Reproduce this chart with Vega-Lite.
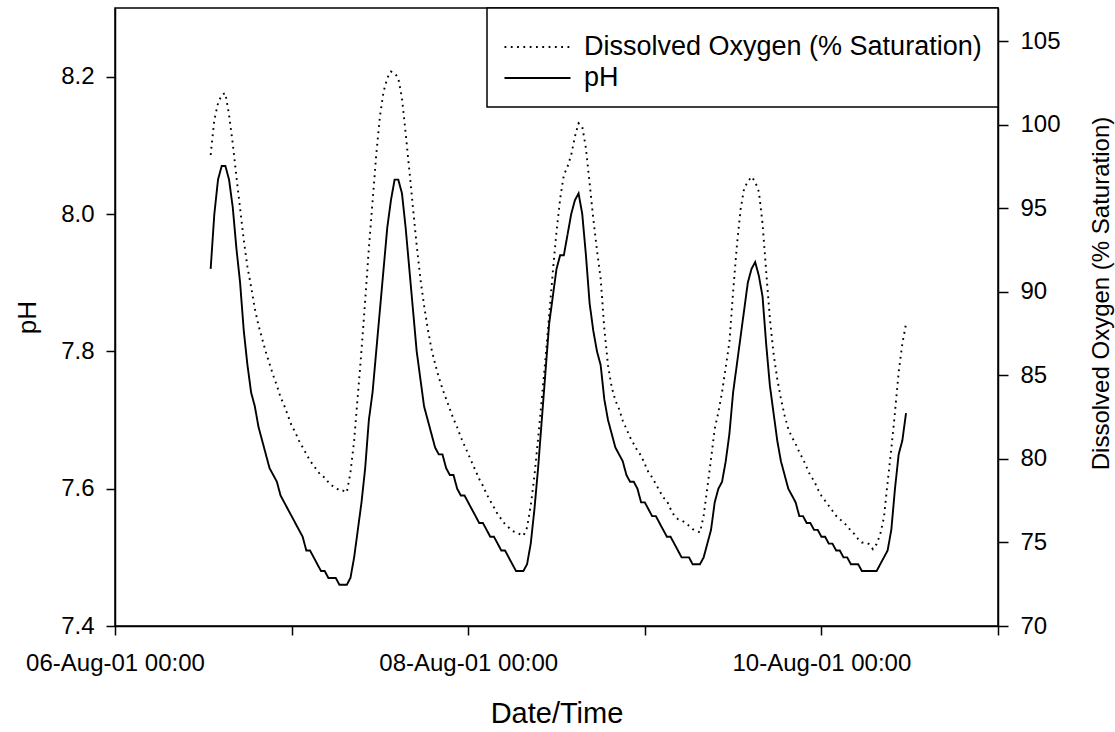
{
"$schema": "https://vega.github.io/schema/vega-lite/v6.json",
"width": 883, "height": 618,
"autosize": {"type": "none"},
"padding": {"left": 115, "top": 8, "right": 117, "bottom": 106},
"background": "white",
"config": {
 "font": "Liberation Sans",
 "view": {"stroke": "black", "strokeWidth": 1.5},
 "axis": {"grid": false, "domainColor": "black", "domainWidth": 1.5, "tickColor": "black", "tickWidth": 1.5, "labelColor": "black", "titleColor": "black", "labelFontSize": 24, "titleFontSize": 24, "titleFontWeight": "normal", "labelFont": "Liberation Sans", "titleFont": "Liberation Sans"},
 "legend": {"orient": "top-right", "offset": 0, "strokeColor": "black", "strokeWidth": 1.5, "fillColor": "white", "padding": 16, "labelFontSize": 27, "labelFont": "Liberation Sans", "labelColor": "black", "symbolType": "M-1,0H4.5", "symbolSize": 576, "symbolStrokeColor": "black", "symbolStrokeWidth": 1.8, "labelOffset": 54, "rowPadding": 3, "labelLimit": 600, "titleFontSize": 5, "titlePadding": 4.5, "titleColor": "white"}
},
"data": {"format": {"parse": {"t": "date:'%Y-%m-%d %H:%M'"}}, "values": [
{"t":"2001-08-06 13:00","ph":7.92,"do":98.2},
{"t":"2001-08-06 13:30","ph":8.00,"do":100.3},
{"t":"2001-08-06 14:00","ph":8.05,"do":101.3},
{"t":"2001-08-06 14:30","ph":8.07,"do":101.8},
{"t":"2001-08-06 15:00","ph":8.07,"do":101.9},
{"t":"2001-08-06 15:30","ph":8.05,"do":100.6},
{"t":"2001-08-06 16:00","ph":8.01,"do":98.9},
{"t":"2001-08-06 16:30","ph":7.95,"do":96.9},
{"t":"2001-08-06 17:00","ph":7.90,"do":95.0},
{"t":"2001-08-06 17:30","ph":7.83,"do":93.1},
{"t":"2001-08-06 18:00","ph":7.78,"do":91.5},
{"t":"2001-08-06 18:30","ph":7.74,"do":90.3},
{"t":"2001-08-06 19:00","ph":7.72,"do":89.0},
{"t":"2001-08-06 19:30","ph":7.69,"do":88.0},
{"t":"2001-08-06 20:00","ph":7.67,"do":87.2},
{"t":"2001-08-06 20:30","ph":7.65,"do":86.4},
{"t":"2001-08-06 21:00","ph":7.63,"do":85.7},
{"t":"2001-08-06 21:30","ph":7.62,"do":85.0},
{"t":"2001-08-06 22:00","ph":7.61,"do":84.4},
{"t":"2001-08-06 22:30","ph":7.59,"do":83.7},
{"t":"2001-08-06 23:00","ph":7.58,"do":83.2},
{"t":"2001-08-06 23:30","ph":7.57,"do":82.6},
{"t":"2001-08-07 00:00","ph":7.56,"do":82.0},
{"t":"2001-08-07 00:30","ph":7.55,"do":81.6},
{"t":"2001-08-07 01:00","ph":7.54,"do":81.1},
{"t":"2001-08-07 01:30","ph":7.53,"do":80.7},
{"t":"2001-08-07 02:00","ph":7.51,"do":80.3},
{"t":"2001-08-07 02:30","ph":7.51,"do":79.9},
{"t":"2001-08-07 03:00","ph":7.50,"do":79.6},
{"t":"2001-08-07 03:30","ph":7.49,"do":79.3},
{"t":"2001-08-07 04:00","ph":7.48,"do":79.0},
{"t":"2001-08-07 04:30","ph":7.48,"do":78.9},
{"t":"2001-08-07 05:00","ph":7.47,"do":78.6},
{"t":"2001-08-07 05:30","ph":7.47,"do":78.4},
{"t":"2001-08-07 06:00","ph":7.47,"do":78.3},
{"t":"2001-08-07 06:30","ph":7.46,"do":78.1},
{"t":"2001-08-07 07:00","ph":7.46,"do":78.1},
{"t":"2001-08-07 07:30","ph":7.46,"do":78.0},
{"t":"2001-08-07 08:00","ph":7.47,"do":79.2},
{"t":"2001-08-07 08:30","ph":7.50,"do":81.1},
{"t":"2001-08-07 09:00","ph":7.54,"do":83.8},
{"t":"2001-08-07 09:30","ph":7.58,"do":86.5},
{"t":"2001-08-07 10:00","ph":7.63,"do":89.5},
{"t":"2001-08-07 10:30","ph":7.70,"do":92.6},
{"t":"2001-08-07 11:00","ph":7.74,"do":95.4},
{"t":"2001-08-07 11:30","ph":7.80,"do":98.2},
{"t":"2001-08-07 12:00","ph":7.86,"do":100.5},
{"t":"2001-08-07 12:30","ph":7.92,"do":102.0},
{"t":"2001-08-07 13:00","ph":7.98,"do":102.8},
{"t":"2001-08-07 13:30","ph":8.02,"do":103.2},
{"t":"2001-08-07 14:00","ph":8.05,"do":103.1},
{"t":"2001-08-07 14:30","ph":8.05,"do":102.8},
{"t":"2001-08-07 15:00","ph":8.03,"do":101.6},
{"t":"2001-08-07 15:30","ph":7.98,"do":99.5},
{"t":"2001-08-07 16:00","ph":7.92,"do":97.3},
{"t":"2001-08-07 16:30","ph":7.86,"do":95.0},
{"t":"2001-08-07 17:00","ph":7.80,"do":92.8},
{"t":"2001-08-07 17:30","ph":7.76,"do":90.8},
{"t":"2001-08-07 18:00","ph":7.72,"do":89.2},
{"t":"2001-08-07 18:30","ph":7.70,"do":87.8},
{"t":"2001-08-07 19:00","ph":7.68,"do":86.6},
{"t":"2001-08-07 19:30","ph":7.66,"do":85.7},
{"t":"2001-08-07 20:00","ph":7.65,"do":84.9},
{"t":"2001-08-07 20:30","ph":7.65,"do":84.2},
{"t":"2001-08-07 21:00","ph":7.63,"do":83.6},
{"t":"2001-08-07 21:30","ph":7.62,"do":83.0},
{"t":"2001-08-07 22:00","ph":7.62,"do":82.4},
{"t":"2001-08-07 22:30","ph":7.60,"do":81.9},
{"t":"2001-08-07 23:00","ph":7.59,"do":81.3},
{"t":"2001-08-07 23:30","ph":7.59,"do":80.8},
{"t":"2001-08-08 00:00","ph":7.58,"do":80.3},
{"t":"2001-08-08 00:30","ph":7.57,"do":79.8},
{"t":"2001-08-08 01:00","ph":7.56,"do":79.3},
{"t":"2001-08-08 01:30","ph":7.55,"do":78.8},
{"t":"2001-08-08 02:00","ph":7.55,"do":78.4},
{"t":"2001-08-08 02:30","ph":7.54,"do":77.9},
{"t":"2001-08-08 03:00","ph":7.53,"do":77.5},
{"t":"2001-08-08 03:30","ph":7.53,"do":77.1},
{"t":"2001-08-08 04:00","ph":7.52,"do":76.7},
{"t":"2001-08-08 04:30","ph":7.51,"do":76.4},
{"t":"2001-08-08 05:00","ph":7.51,"do":76.1},
{"t":"2001-08-08 05:30","ph":7.50,"do":75.9},
{"t":"2001-08-08 06:00","ph":7.49,"do":75.7},
{"t":"2001-08-08 06:30","ph":7.48,"do":75.6},
{"t":"2001-08-08 07:00","ph":7.48,"do":75.5},
{"t":"2001-08-08 07:30","ph":7.48,"do":75.4},
{"t":"2001-08-08 08:00","ph":7.49,"do":75.9},
{"t":"2001-08-08 08:30","ph":7.52,"do":77.2},
{"t":"2001-08-08 09:00","ph":7.57,"do":79.0},
{"t":"2001-08-08 09:30","ph":7.63,"do":81.2},
{"t":"2001-08-08 10:00","ph":7.70,"do":83.6},
{"t":"2001-08-08 10:30","ph":7.77,"do":86.0},
{"t":"2001-08-08 11:00","ph":7.84,"do":88.6},
{"t":"2001-08-08 11:30","ph":7.88,"do":91.2},
{"t":"2001-08-08 12:00","ph":7.92,"do":93.6},
{"t":"2001-08-08 12:30","ph":7.94,"do":95.6},
{"t":"2001-08-08 13:00","ph":7.94,"do":97.0},
{"t":"2001-08-08 13:30","ph":7.97,"do":97.5},
{"t":"2001-08-08 14:00","ph":8.00,"do":98.2},
{"t":"2001-08-08 14:30","ph":8.02,"do":99.3},
{"t":"2001-08-08 15:00","ph":8.03,"do":100.1},
{"t":"2001-08-08 15:30","ph":8.00,"do":99.9},
{"t":"2001-08-08 16:00","ph":7.94,"do":98.6},
{"t":"2001-08-08 16:30","ph":7.87,"do":96.5},
{"t":"2001-08-08 17:00","ph":7.83,"do":94.4},
{"t":"2001-08-08 17:30","ph":7.80,"do":92.5},
{"t":"2001-08-08 18:00","ph":7.78,"do":90.8},
{"t":"2001-08-08 18:30","ph":7.73,"do":87.8},
{"t":"2001-08-08 19:00","ph":7.70,"do":85.6},
{"t":"2001-08-08 19:30","ph":7.68,"do":84.3},
{"t":"2001-08-08 20:00","ph":7.66,"do":83.5},
{"t":"2001-08-08 20:30","ph":7.65,"do":83.0},
{"t":"2001-08-08 21:00","ph":7.64,"do":82.3},
{"t":"2001-08-08 21:30","ph":7.62,"do":81.8},
{"t":"2001-08-08 22:00","ph":7.61,"do":81.3},
{"t":"2001-08-08 22:30","ph":7.61,"do":80.9},
{"t":"2001-08-08 23:00","ph":7.60,"do":80.5},
{"t":"2001-08-08 23:30","ph":7.58,"do":80.2},
{"t":"2001-08-09 00:00","ph":7.58,"do":79.7},
{"t":"2001-08-09 00:30","ph":7.57,"do":79.2},
{"t":"2001-08-09 01:00","ph":7.56,"do":78.9},
{"t":"2001-08-09 01:30","ph":7.56,"do":78.5},
{"t":"2001-08-09 02:00","ph":7.55,"do":78.1},
{"t":"2001-08-09 02:30","ph":7.54,"do":77.7},
{"t":"2001-08-09 03:00","ph":7.53,"do":77.5},
{"t":"2001-08-09 03:30","ph":7.53,"do":77.0},
{"t":"2001-08-09 04:00","ph":7.52,"do":76.6},
{"t":"2001-08-09 04:30","ph":7.51,"do":76.4},
{"t":"2001-08-09 05:00","ph":7.50,"do":76.3},
{"t":"2001-08-09 05:30","ph":7.50,"do":76.2},
{"t":"2001-08-09 06:00","ph":7.50,"do":76.0},
{"t":"2001-08-09 06:30","ph":7.49,"do":75.8},
{"t":"2001-08-09 07:00","ph":7.49,"do":75.7},
{"t":"2001-08-09 07:30","ph":7.49,"do":75.6},
{"t":"2001-08-09 08:00","ph":7.50,"do":76.6},
{"t":"2001-08-09 08:30","ph":7.52,"do":78.3},
{"t":"2001-08-09 09:00","ph":7.54,"do":80.0},
{"t":"2001-08-09 09:30","ph":7.58,"do":81.8},
{"t":"2001-08-09 10:00","ph":7.60,"do":82.8},
{"t":"2001-08-09 10:30","ph":7.61,"do":84.0},
{"t":"2001-08-09 11:00","ph":7.64,"do":85.5},
{"t":"2001-08-09 11:30","ph":7.68,"do":87.0},
{"t":"2001-08-09 12:00","ph":7.74,"do":90.0},
{"t":"2001-08-09 12:30","ph":7.78,"do":92.7},
{"t":"2001-08-09 13:00","ph":7.82,"do":94.9},
{"t":"2001-08-09 13:30","ph":7.86,"do":96.2},
{"t":"2001-08-09 14:00","ph":7.90,"do":96.6},
{"t":"2001-08-09 14:30","ph":7.92,"do":96.9},
{"t":"2001-08-09 15:00","ph":7.93,"do":96.6},
{"t":"2001-08-09 15:30","ph":7.91,"do":96.0},
{"t":"2001-08-09 16:00","ph":7.88,"do":94.1},
{"t":"2001-08-09 16:30","ph":7.81,"do":91.2},
{"t":"2001-08-09 17:00","ph":7.75,"do":88.4},
{"t":"2001-08-09 17:30","ph":7.71,"do":86.3},
{"t":"2001-08-09 18:00","ph":7.67,"do":84.8},
{"t":"2001-08-09 18:30","ph":7.64,"do":83.6},
{"t":"2001-08-09 19:00","ph":7.62,"do":82.6},
{"t":"2001-08-09 19:30","ph":7.60,"do":81.8},
{"t":"2001-08-09 20:00","ph":7.59,"do":81.3},
{"t":"2001-08-09 20:30","ph":7.58,"do":80.9},
{"t":"2001-08-09 21:00","ph":7.56,"do":80.4},
{"t":"2001-08-09 21:30","ph":7.56,"do":80.0},
{"t":"2001-08-09 22:00","ph":7.55,"do":79.5},
{"t":"2001-08-09 22:30","ph":7.55,"do":79.0},
{"t":"2001-08-09 23:00","ph":7.54,"do":78.7},
{"t":"2001-08-09 23:30","ph":7.54,"do":78.2},
{"t":"2001-08-10 00:00","ph":7.53,"do":77.8},
{"t":"2001-08-10 00:30","ph":7.53,"do":77.5},
{"t":"2001-08-10 01:00","ph":7.52,"do":77.2},
{"t":"2001-08-10 01:30","ph":7.52,"do":76.9},
{"t":"2001-08-10 02:00","ph":7.51,"do":76.6},
{"t":"2001-08-10 02:30","ph":7.51,"do":76.4},
{"t":"2001-08-10 03:00","ph":7.50,"do":76.2},
{"t":"2001-08-10 03:30","ph":7.50,"do":76.0},
{"t":"2001-08-10 04:00","ph":7.49,"do":75.7},
{"t":"2001-08-10 04:30","ph":7.49,"do":75.5},
{"t":"2001-08-10 05:00","ph":7.49,"do":75.2},
{"t":"2001-08-10 05:30","ph":7.48,"do":75.0},
{"t":"2001-08-10 06:00","ph":7.48,"do":75.0},
{"t":"2001-08-10 06:30","ph":7.48,"do":74.9},
{"t":"2001-08-10 07:00","ph":7.48,"do":74.6},
{"t":"2001-08-10 07:30","ph":7.48,"do":74.9},
{"t":"2001-08-10 08:00","ph":7.49,"do":75.5},
{"t":"2001-08-10 08:30","ph":7.50,"do":76.5},
{"t":"2001-08-10 09:00","ph":7.51,"do":78.6},
{"t":"2001-08-10 09:30","ph":7.54,"do":80.6},
{"t":"2001-08-10 10:00","ph":7.60,"do":82.8},
{"t":"2001-08-10 10:30","ph":7.65,"do":85.2},
{"t":"2001-08-10 11:00","ph":7.67,"do":86.9},
{"t":"2001-08-10 11:30","ph":7.71,"do":88.1}
]},
"encoding": {
 "x": {"field": "t", "type": "temporal",
  "scale": {"domain": [{"year": 2001, "month": 8, "date": 6}, {"year": 2001, "month": 8, "date": 11}], "nice": false},
  "axis": {"title": "Date/Time", "values": [{"year": 2001, "month": 8, "date": 6}, {"year": 2001, "month": 8, "date": 7}, {"year": 2001, "month": 8, "date": 8}, {"year": 2001, "month": 8, "date": 9}, {"year": 2001, "month": 8, "date": 10}, {"year": 2001, "month": 8, "date": 11}],
   "labelExpr": "date(datum.value) % 2 == 0 ? timeFormat(datum.value, '%d-%b-%y %H:%M') : ''",
   "tickSize": 9, "labelPadding": 28, "labelBaseline": "middle", "labelFlush": false, "labelOverlap": false,
   "titleFontSize": 29, "titleY": 87, "titleBaseline": "middle"}
 }
},
"layer": [
 {"mark": {"type": "line", "color": "black", "strokeWidth": 1.9},
  "encoding": {
   "y": {"field": "do", "type": "quantitative", "scale": {"domain": [70, 107], "nice": false, "zero": false},
    "axis": {"orient": "right", "title": "Dissolved Oxygen (% Saturation)", "values": [70, 75, 80, 85, 90, 95, 100, 105], "tickSize": 10, "labelPadding": 12,
     "titleAngle": -90, "titleX": 103, "titleY": 285, "titleBaseline": "middle", "titleAlign": "center"}},
   "strokeDash": {"datum": "Dissolved Oxygen (% Saturation)", "type": "nominal",
    "scale": {"domain": ["Dissolved Oxygen (% Saturation)", "pH"], "range": [[1.8, 4.5], [1, 0]]},
    "legend": {"title": " "}}
  }},
 {"mark": {"type": "line", "color": "black", "strokeWidth": 1.9},
  "encoding": {
   "y": {"field": "ph", "type": "quantitative", "scale": {"domain": [7.4, 8.3], "nice": false, "zero": false},
    "axis": {"orient": "left", "title": "pH", "values": [7.4, 7.6, 7.8, 8.0, 8.2], "format": ".1f", "tickSize": 9, "labelPadding": 12,
     "titleFontSize": 26, "titleAngle": -90, "titleX": -88, "titleY": 309, "titleBaseline": "middle", "titleAlign": "center"}},
   "strokeDash": {"datum": "pH", "type": "nominal"}
  }}
],
"resolve": {"scale": {"y": "independent"}}
}
